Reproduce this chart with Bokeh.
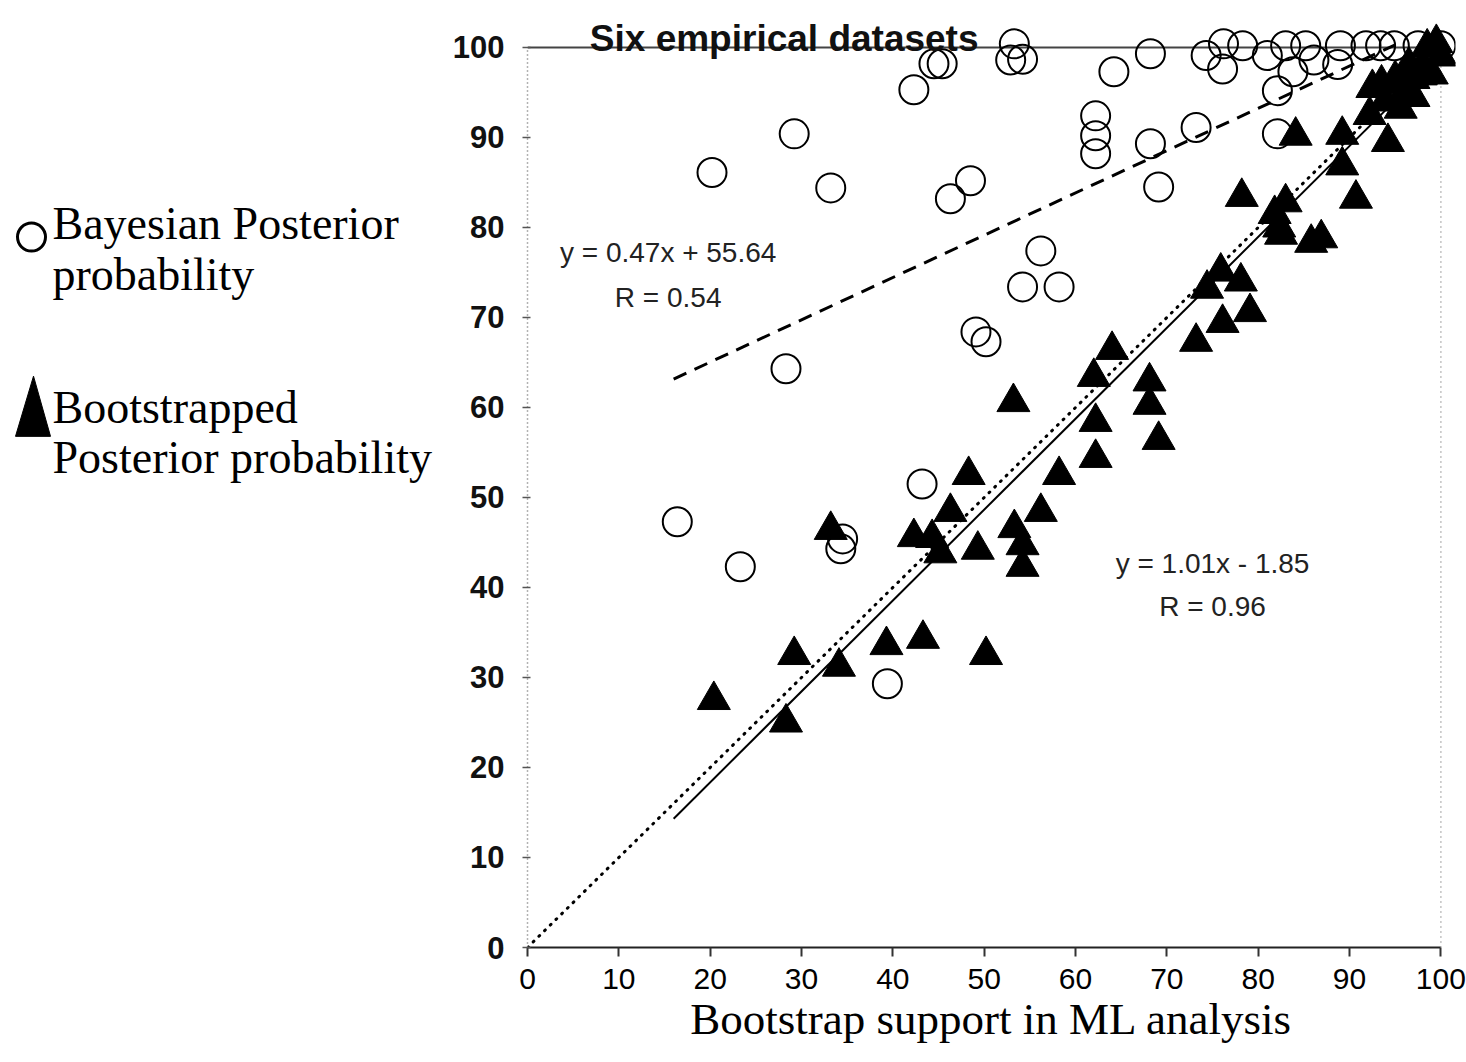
from bokeh.plotting import figure
from bokeh.layouts import row
from bokeh.models import Range1d, FixedTicker
from bokeh.embed import file_html
from bokeh.resources import INLINE
from bokeh.core.properties import value

# ---------------- data ----------------
bayes_x = [16.4, 23.3, 28.3, 29.2, 20.2, 33.2, 34.5, 34.3, 39.4, 43.2,
           42.3, 44.5, 45.4, 46.3, 48.5, 49.1, 50.2, 53.3, 54.2, 52.9,
           64.2, 68.2, 62.2, 62.2, 62.2, 68.2, 73.2, 69.1, 56.2, 54.2,
           58.2, 74.3, 76.1, 76.2, 78.3, 81.0, 83.0, 83.8, 82.1, 85.2,
           86.1, 89.0, 88.7, 91.8, 93.4, 94.9, 97.5, 100.0, 82.1]
bayes_y = [47.3, 42.3, 64.3, 90.4, 86.1, 84.4, 45.4, 44.3, 29.3, 51.5,
           95.3, 98.2, 98.2, 83.2, 85.2, 68.4, 67.3, 100.4, 98.7, 98.6,
           97.3, 99.3, 92.4, 90.2, 88.2, 89.3, 91.1, 84.5, 77.4, 73.4,
           73.4, 99.1, 97.6, 100.4, 100.2, 99.1, 100.2, 97.3, 95.2, 100.2,
           98.6, 100.2, 98.1, 100.2, 100.2, 100.2, 100.2, 100.2, 90.4]

boot_x = [20.4, 28.3, 29.2, 33.2, 34.1, 39.3, 42.3, 43.3, 44.3, 45.2,
          46.3, 48.3, 49.3, 50.2, 53.2, 53.3, 54.2, 54.2, 56.2, 58.2,
          62.2, 62.2, 62.0, 64.0, 68.1, 68.1, 69.1, 73.2, 74.4, 75.9,
          76.1, 78.1, 79.1, 78.2, 81.8, 82.3, 83.0, 82.5, 85.8, 86.9,
          84.1, 89.2, 89.2, 90.7, 92.2, 93.9, 94.2, 95.6, 92.5, 93.5,
          95.0, 96.0, 96.5, 97.0, 97.8, 98.0, 98.5, 99.0, 99.5, 100.0,
          97.0]
boot_y = [27.5, 25.0, 32.5, 46.4, 31.2, 33.6, 45.6, 34.3, 45.5, 43.8,
          48.4, 52.5, 44.2, 32.5, 60.6, 46.6, 44.7, 42.3, 48.4, 52.5,
          54.4, 58.4, 63.4, 66.4, 62.9, 60.3, 56.4, 67.3, 73.2, 75.1,
          69.4, 74.0, 70.6, 83.4, 81.5, 80.0, 82.8, 79.2, 78.3, 78.8,
          90.2, 90.3, 86.9, 83.2, 92.5, 94.0, 89.5, 93.2, 95.5, 96.0,
          96.5, 95.0, 98.0, 96.5, 96.9, 98.0, 100.0, 97.0, 100.5, 99.0,
          94.5]

# regression fits (as printed on the chart) and their x extents
bayes_slope, bayes_icpt, bayes_r = 0.47, 55.64, 0.54
boot_slope, boot_icpt, boot_r = 1.01, -1.85, 0.96
bayes_fit_x = [16.0, 95.0]
boot_fit_x = [16.0, 100.0]
diag_x = [0, 100]

x_ticks = [0, 10, 20, 30, 40, 50, 60, 70, 80, 90, 100]
y_ticks = [0, 10, 20, 30, 40, 50, 60, 70, 80, 90, 100]

title_text = "Six empirical datasets"
x_label = "Bootstrap support in ML analysis"
legend_bayes = ["Bayesian Posterior", "probability"]
legend_boot = ["Bootstrapped", "Posterior probability"]

SERIF = value("Liberation Serif")
SANS = value("Liberation Sans")

H = 1060

# ---------------- legend column ----------------
leg = figure(width=438, height=H, x_range=Range1d(0, 438), y_range=Range1d(H, 0),
             output_backend="svg", toolbar_location=None,
             x_axis_location=None, y_axis_location=None, min_border=0)
leg.grid.visible = False
leg.outline_line_color = None
leg.scatter([31], [258], marker="circle", size=28, fill_color=None,
            line_color="black", line_width=3)
leg.patch([15, 33, 50], [483, 415, 483], color="black")
leg.text(x=[52, 52], y=[243, 300], text=legend_bayes, text_font=SERIF,
         text_font_size="46px", text_baseline="alphabetic", text_color="black")
leg.text(x=[52, 52], y=[450, 507], text=legend_boot, text_font=SERIF,
         text_font_size="46px", text_baseline="alphabetic", text_color="black")

# ---------------- main scatter ----------------
p = figure(width=1028, height=H, x_range=Range1d(0, 101.6), y_range=Range1d(0, 104.33),
           output_backend="svg", toolbar_location=None,
           min_border_left=89, min_border_right=11, min_border_top=8,
           min_border_bottom=H - 947)
p.grid.visible = False
p.outline_line_color = None
p.background_fill_color = "white"

# x axis
p.xaxis.bounds = (0, 100)
p.xaxis.ticker = FixedTicker(ticks=x_ticks)
p.xaxis.minor_tick_line_color = None
p.xaxis.major_tick_in = 0
p.xaxis.major_tick_out = 9
p.xaxis.major_tick_line_width = 2
p.xaxis.axis_line_width = 2
p.xaxis.axis_line_color = "#222222"
p.xaxis.major_tick_line_color = "#333333"
p.xaxis.major_label_text_font = "Liberation Sans"
p.xaxis.major_label_text_font_size = "30px"
p.xaxis.major_label_text_color = "black"
p.xaxis.major_label_standoff = 12
p.xaxis.axis_label = x_label
p.xaxis.axis_label_text_font = "Liberation Serif"
p.xaxis.axis_label_text_font_size = "45px"
p.xaxis.axis_label_text_font_style = "normal"
p.xaxis.axis_label_text_color = "black"
p.xaxis.axis_label_standoff = 2

# y axis
p.yaxis.bounds = (0, 100)
p.yaxis.ticker = FixedTicker(ticks=y_ticks)
p.yaxis.minor_tick_line_color = None
p.yaxis.axis_line_dash = "1 3"
p.yaxis.axis_line_color = "#666666"
p.yaxis.axis_line_width = 1.5
p.yaxis.major_tick_in = 3
p.yaxis.major_tick_out = 5
p.yaxis.major_tick_line_color = "#555555"
p.yaxis.major_tick_line_width = 1.5
p.yaxis.major_label_text_font = "Liberation Sans"
p.yaxis.major_label_text_font_style = "bold"
p.yaxis.major_label_text_font_size = "31px"
p.yaxis.major_label_text_color = "#111111"
p.yaxis.major_label_standoff = 18

# frame lines: solid top at 100, dotted right at 100
p.segment(x0=[diag_x[0]], y0=[y_ticks[-1]], x1=[diag_x[1]], y1=[y_ticks[-1]],
          line_color="#444444", line_width=2)
p.segment(x0=[x_ticks[-1]], y0=[y_ticks[0]], x1=[x_ticks[-1]], y1=[y_ticks[-1]],
          line_color="#888888", line_width=1.5, line_dash="1 4")

# reference diagonal y = x (dotted)
p.line(diag_x, diag_x, line_color="black", line_width=3, line_dash="1 7", line_cap="round")
# regression lines
p.line(boot_fit_x, [boot_slope * v + boot_icpt for v in boot_fit_x],
       line_color="black", line_width=2)
p.line(bayes_fit_x, [bayes_slope * v + bayes_icpt for v in bayes_fit_x],
       line_color="black", line_width=3, line_dash="14 9")

# points
p.scatter(bayes_x, bayes_y, marker="circle", size=29, fill_color=None,
          line_color="black", line_width=2)
p.scatter(boot_x, boot_y, marker="triangle", size=33, fill_color="black",
          line_color="black", line_width=1)

# texts
p.text(x=[28.1], y=[101.0], text=[title_text], text_font=SANS, text_font_style="bold",
       text_font_size="37px", text_align="center", text_baseline="alphabetic",
       text_color="#111111")
p.text(x=[15.4, 15.4], y=[77.2, 72.2],
       text=[f"y = {bayes_slope}x + {bayes_icpt}", f"R = {bayes_r}"],
       text_font=SANS, text_font_size="28px", text_align="center",
       text_baseline="alphabetic", text_color="#222222")
p.text(x=[75.0, 75.0], y=[42.7, 37.9],
       text=[f"y = {boot_slope}x - {abs(boot_icpt)}", f"R = {boot_r}"],
       text_font=SANS, text_font_size="28px", text_align="center",
       text_baseline="alphabetic", text_color="#222222")

layout = row(leg, p)
open("out.html", "w").write(file_html(layout, INLINE))
